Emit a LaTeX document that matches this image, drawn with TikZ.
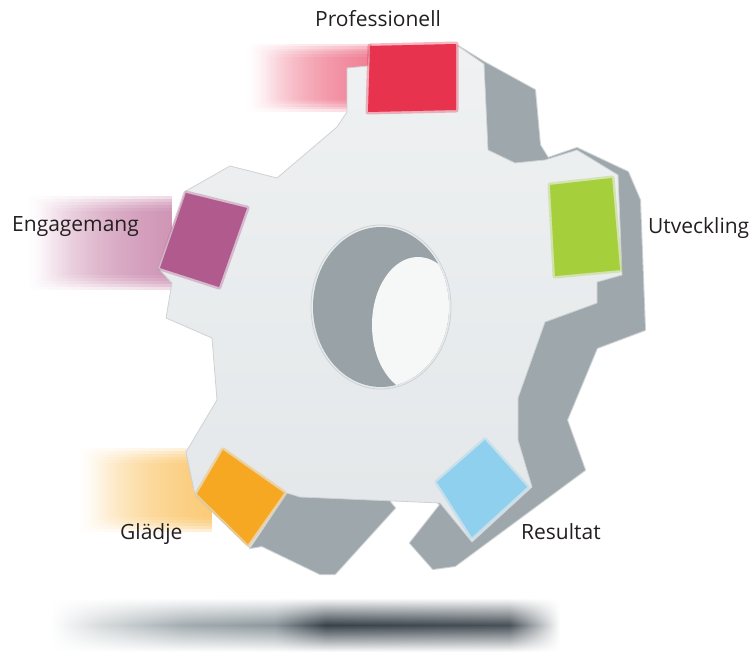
\documentclass[tikz,border=0pt]{standalone}
\usepackage{fontspec}
\setmainfont{Open Sans}
\usetikzlibrary{fadings}
\definecolor{faceTop}{HTML}{EFF1F2}
\definecolor{faceBot}{HTML}{E3E7E9}
\definecolor{sidegray}{HTML}{9EA7AB}
\definecolor{edgegray}{HTML}{CDD2D5}
\definecolor{holedark}{HTML}{99A3A7}
\definecolor{holelight}{HTML}{F6F7F7}
\definecolor{cRed}{HTML}{E8334F}
\definecolor{cRedBand}{HTML}{EE7088}
\definecolor{cMag}{HTML}{B05A8E}
\definecolor{cMagBand}{HTML}{C987AC}
\definecolor{cGreen}{HTML}{A6CF3C}
\definecolor{cBlue}{HTML}{8FD0EE}
\definecolor{cOrange}{HTML}{F7A823}
\definecolor{cOrangeBand}{HTML}{FAC466}
\definecolor{txt}{HTML}{231F20}
\definecolor{shDark}{HTML}{38424A}
\definecolor{shMid}{HTML}{8D989D}
\tikzfading[name=fadevert, top color=transparent!100, bottom color=transparent!100, middle color=transparent!0]
\pgfdeclarehorizontalshading{shadowsh}{100bp}{color(0bp)=(white); color(25bp)=(white); color(30bp)=(shMid!35); color(38bp)=(shMid!80); color(47bp)=(shMid); color(52bp)=(shDark); color(70bp)=(shDark!92); color(75bp)=(white); color(100bp)=(white)}
\begin{document}
\begin{tikzpicture}[x=1pt,y=-1pt,
  lbl/.style={font=\fontsize{21}{25}\selectfont, text=txt, anchor=base west, inner sep=0pt},
  glow/.style={line width=5pt, line join=round, opacity=0.35},
  band/.style={path fading=west, opacity=0.3}]
\useasboundingbox (0,0) rectangle (756,653);
% ground shadow
\shade[shading=shadowsh, path fading=fadevert] (50,598) rectangle (560,652);
% motion bands (soft edges by layering)
\foreach \k in {0,...,5} {
  \fill[cRedBand, band] (245+\k*4,44+\k*2.5) rectangle (372,112-\k*2.5);
  \fill[cMagBand, band] (25+\k*4,196+\k*3) rectangle (172,290-\k*3);
  \fill[cOrangeBand, band] (75+\k*4,448+\k*3) rectangle (212,532-\k*3);
}
% gear side (extrusion silhouette)
\filldraw[sidegray, line width=2pt, line join=round, draw opacity=0.5] (458,46) -- (484,62) -- (535,90) -- (540,145) -- (548,158) -- (577,148)
  -- (628,172) -- (640,200) -- (645,330) -- (597,348) -- (567,420) -- (585,470)
  -- (455,566) -- (433,569) -- (410,543) -- (440,505) -- (420,480) -- (390,480)
  -- (390,502) -- (395,508) -- (335,574) -- (320,574) -- (262,546) -- (250,548)
  -- (260,480) -- (400,300) -- cycle;
% gear front face
\shade[top color=faceTop, bottom color=faceBot, draw=edgegray, line width=0.8pt, line join=round]
  (347,112) -- (347,68) -- (368,66) -- (370,46) -- (458,46) -- (484,64) -- (488,150)
  -- (515,163) -- (545,160) -- (577,150) -- (618,175) -- (622,275) -- (597,282)
  -- (597,303) -- (545,322) -- (518,398) -- (518,440) -- (532,487) -- (472,542)
  -- (440,503) -- (300,497) -- (287,493) -- (250,548) -- (195,495) -- (186,452)
  -- (217,400) -- (212,338) -- (166,318) -- (172,283) -- (158,268) -- (186,191)
  -- (230,166) -- (277,178) -- (337,127) -- cycle;
% hole
\fill[holedark] (381,307) ellipse [x radius=68, y radius=80];
\begin{scope}
  \clip (381,307) ellipse [x radius=68, y radius=80];
  \fill[holelight] (418,325) ellipse [x radius=46, y radius=68];
\end{scope}
\draw[edgegray, line width=0.8pt] (381,307) ellipse [x radius=70, y radius=82];
% coloured squares
\fill[cRed, glow, draw=cRed] (370,46) -- (456,44) -- (456,110) -- (368,112) -- cycle;
\fill[cRed] (370,46) -- (456,44) -- (456,110) -- (368,112) -- cycle;
\fill[cMag, glow, draw=cMag] (186,193) -- (247,208) -- (219,287) -- (160,268) -- cycle;
\fill[cMag] (186,193) -- (247,208) -- (219,287) -- (160,268) -- cycle;
\fill[cGreen, glow, draw=cGreen] (550,185) -- (612,178) -- (620,270) -- (555,276) -- cycle;
\fill[cGreen] (550,185) -- (612,178) -- (620,270) -- (555,276) -- cycle;
\fill[cBlue, glow, draw=cBlue] (485,440) -- (527,487) -- (472,537) -- (437,482) -- cycle;
\fill[cBlue] (485,440) -- (527,487) -- (472,537) -- (437,482) -- cycle;
\fill[cOrange, glow, draw=cOrange] (223,450) -- (284,493) -- (248,544) -- (197,494) -- cycle;
\fill[cOrange] (223,450) -- (284,493) -- (248,544) -- (197,494) -- cycle;
% labels
\node[lbl] (prof) at (315,27) {Professionell};
\node[lbl] (eng) at (12,231) {Engagemang};
\node[lbl] (utv) at (648,233) {Utveckling};
\node[lbl] (gla) at (120,539) {Glädje};
\node[lbl] (res) at (521,539) {Resultat};
\end{tikzpicture}
\end{document}
